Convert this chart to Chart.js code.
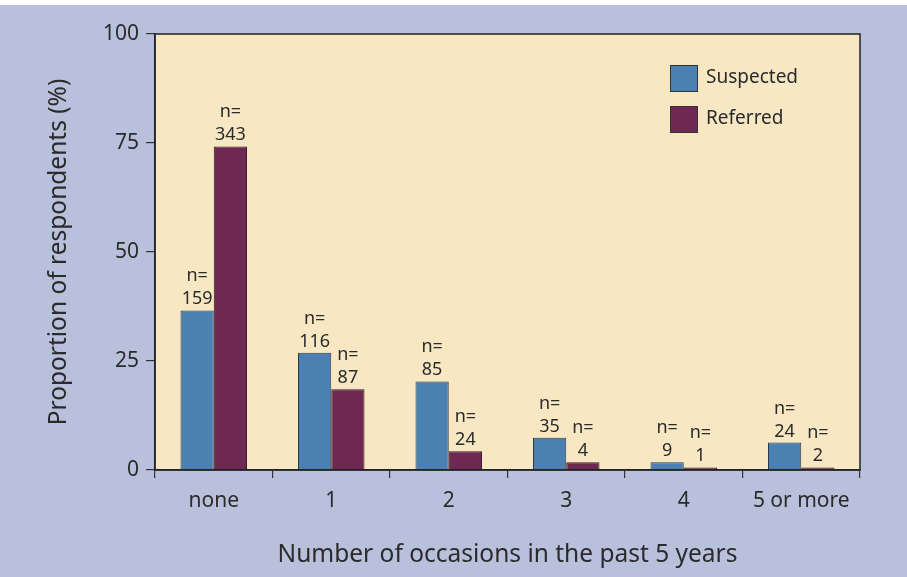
<!DOCTYPE html>
<html>
<head>
<meta charset="utf-8">
<script src="https://cdn.jsdelivr.net/npm/chart.js@4"></script>
<style>
  html, body { margin: 0; padding: 0; background: #fff; }
  #wrap { width: 907px; height: 577px; }
</style>
</head>
<body>
<div id="wrap"><canvas id="occasionsChart" width="907" height="577"></canvas></div>
<script>
// values
const categories = ["none", "1", "2", "3", "4", "5 or more"];
const suspectedPct = [36.6, 26.9, 20.3, 7.4, 1.8, 6.3];
const referredPct = [74.2, 18.5, 4.3, 1.8, 0.6, 0.6];
const suspectedN = [159, 116, 85, 35, 9, 24];
const referredN = [343, 87, 24, 4, 1, 2];
const yTicks = [0, 25, 50, 75, 100];

const FONT = "'Noto Sans', sans-serif";
const TEXT = "#2b2b2b";

// page background, beige plot area and frame
const backdrop = {
  id: "backdrop",
  beforeDraw(chart) {
    const { ctx, chartArea: a, width, height } = chart;
    ctx.save();
    ctx.fillStyle = "#ffffff";
    ctx.fillRect(0, 0, width, height);
    ctx.fillStyle = "#b9c0dc";
    ctx.fillRect(0, 5, width, height - 5);
    ctx.fillStyle = "#f7e7c3";
    ctx.fillRect(a.left, a.top, a.right - a.left, a.bottom - a.top);
    ctx.restore();
  },
  afterDraw(chart) {
    const { ctx, chartArea: a } = chart;
    ctx.save();
    ctx.strokeStyle = "#222";
    ctx.lineWidth = 1.5;
    ctx.strokeRect(a.left, a.top, a.right - a.left, a.bottom - a.top);
    ctx.restore();
  }
};

// "n=" counts above every bar
const countLabels = {
  id: "countLabels",
  afterDatasetsDraw(chart) {
    const { ctx } = chart;
    const counts = [suspectedN, referredN];
    ctx.save();
    ctx.fillStyle = TEXT;
    ctx.font = "18px " + FONT;
    ctx.textAlign = "center";
    ctx.textBaseline = "alphabetic";
    chart.data.datasets.forEach((ds, i) => {
      chart.getDatasetMeta(i).data.forEach((bar, j) => {
        ctx.fillText(String(counts[i][j]), bar.x, bar.y - 6);
        ctx.fillText("n=", bar.x, bar.y - 29);
      });
    });
    ctx.restore();
  }
};

// legend box in the top right of the plot
const insideLegend = {
  id: "insideLegend",
  afterDraw(chart) {
    const { ctx, chartArea: a } = chart;
    ctx.save();
    ctx.font = "19px " + FONT;
    ctx.textBaseline = "middle";
    chart.data.datasets.forEach((ds, i) => {
      const x = a.right - 190;
      const y = a.top + 31 + i * 41;
      ctx.fillStyle = ds.backgroundColor;
      ctx.fillRect(x, y, 27, 26);
      ctx.strokeStyle = "#333";
      ctx.lineWidth = 1;
      ctx.strokeRect(x + 0.5, y + 0.5, 27, 26);
      ctx.fillStyle = TEXT;
      ctx.fillText(ds.label, x + 36, y + 13);
    });
    ctx.restore();
  }
};

new Chart(document.getElementById("occasionsChart"), {
  type: "bar",
  data: {
    labels: categories,
    datasets: [
      {
        label: "Suspected",
        data: suspectedPct,
        backgroundColor: "#4b80b2",
        borderColor: "#2e3a48",
        borderWidth: 1,
        categoryPercentage: 0.566,
        barPercentage: 1.0
      },
      {
        label: "Referred",
        data: referredPct,
        backgroundColor: "#6d2951",
        borderColor: "#3a1c2c",
        borderWidth: 1,
        categoryPercentage: 0.566,
        barPercentage: 1.0
      }
    ]
  },
  options: {
    responsive: false,
    animation: false,
    layout: { padding: { left: 0, top: 34, right: 47, bottom: 0 } },
    plugins: {
      legend: { display: false },
      tooltip: { enabled: false }
    },
    scales: {
      x: {
        afterFit(scale) { scale.height = 107; },
        grid: {
          offset: true,
          drawOnChartArea: false,
          drawTicks: true,
          tickLength: 8,
          color: "#333",
          lineWidth: 1.2
        },
        border: { display: true, color: "#222", width: 1.5 },
        ticks: { color: TEXT, font: { family: FONT, size: 21 }, padding: 10 },
        title: {
          display: true,
          text: "Number of occasions in the past 5 years",
          color: TEXT,
          font: { family: FONT, size: 24.5 },
          padding: { top: 0, bottom: 7 }
        }
      },
      y: {
        min: 0,
        max: 100,
        afterFit(scale) { scale.width = 155; },
        afterBuildTicks(scale) { scale.ticks = yTicks.map(v => ({ value: v })); },
        grid: {
          drawOnChartArea: false,
          drawTicks: true,
          tickLength: 9,
          color: "#333",
          lineWidth: 1.2
        },
        border: { display: true, color: "#222", width: 1.5 },
        ticks: { color: TEXT, font: { family: FONT, size: 21 }, padding: 7 },
        title: {
          display: true,
          text: "Proportion of respondents (%)",
          color: TEXT,
          font: { family: FONT, size: 24.5 },
          padding: { top: 44, bottom: 0 }
        }
      }
    }
  },
  plugins: [backdrop, countLabels, insideLegend]
});
</script>
</body>
</html>
